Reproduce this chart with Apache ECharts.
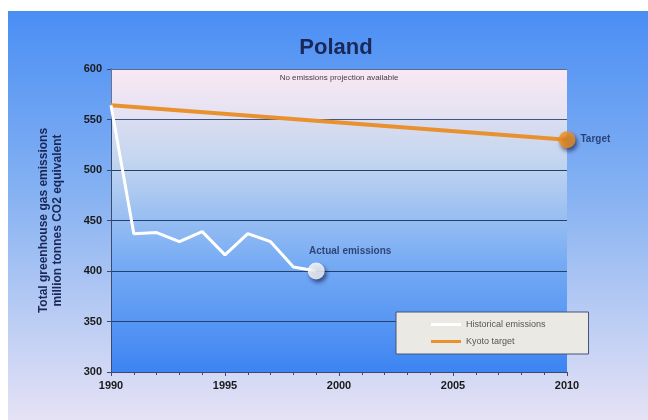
<!DOCTYPE html>
<html>
<head>
<meta charset="utf-8">
<script src="https://cdn.jsdelivr.net/npm/echarts@6/dist/echarts.min.js"></script>
<style>
  html, body { margin: 0; padding: 0; background: #fff; }
  #chart { width: 648px; height: 420px; }
</style>
</head>
<body>
<div id="chart"></div>
<script>
var years = [1990, 1991, 1992, 1993, 1994, 1995, 1996, 1997, 1998, 1999];
var historical = [564, 437, 438, 429, 439, 416, 437, 429, 404, 400];
var targetYears = [1990, 2010];
var kyoto = [564, 530];
var yTicks = [300, 350, 400, 450, 500, 550, 600];

var chart = echarts.init(document.getElementById("chart"));
var dark = "#1a2757";

var histData = years.map(function (y, i) { return [y, historical[i]]; });
var kyotoData = targetYears.map(function (y, i) { return [y, kyoto[i]]; });

var option = {
  animation: false,
  graphic: [
    {
      type: "rect",
      left: 8, top: 11,
      shape: { width: 640, height: 409 },
      style: {
        fill: new echarts.graphic.LinearGradient(0, 0, 0, 1, [
          { offset: 0, color: "#4a8ef4" },
          { offset: 0.45, color: "#86b2f2" },
          { offset: 1, color: "#e6e2f5" }
        ])
      },
      z: -10
    }
  ],
  title: {
    text: "Poland",
    left: 331, top: 32,
    textAlign: "center",
    textStyle: { fontFamily: "Liberation Sans", fontSize: 22, fontWeight: "bold", color: dark }
  },
  grid: {
    left: 111, right: 81, top: 69, bottom: 48,
    show: true,
    borderWidth: 0,
    backgroundColor: new echarts.graphic.LinearGradient(0, 0, 0, 1, [
      { offset: 0, color: "#f6e6f2" },
      { offset: 0.3, color: "#c4d6ef" },
      { offset: 0.65, color: "#74aaf4" },
      { offset: 1, color: "#3d84f2" }
    ])
  },
  xAxis: {
    type: "value",
    min: 1990, max: 2010, interval: 5,
    axisLine: { show: true, lineStyle: { color: "#3a4a70", width: 1 } },
    axisTick: { show: true, length: 4, inside: false, lineStyle: { color: "#3a4a70" } },
    minorTick: { show: true, splitNumber: 5, length: 3, lineStyle: { color: "#3a4a70" } },
    splitLine: { show: false },
    axisLabel: {
      margin: 8,
      fontFamily: "Liberation Sans", fontSize: 11, fontWeight: "bold", color: "#1a1a1a",
      formatter: function (v) { return String(v); }
    }
  },
  yAxis: {
    type: "value",
    min: 300, max: 600, interval: 50,
    name: "Total greenhouse gas emissions\nmillion tonnes CO2 equivalent",
    nameLocation: "middle",
    nameGap: 46,
    nameTextStyle: { fontFamily: "Liberation Sans", fontSize: 12, fontWeight: "bold", color: dark, lineHeight: 14 },
    axisLine: { show: true, lineStyle: { color: "#3a4a70", width: 1 } },
    axisTick: { show: true, length: 4, lineStyle: { color: "#3a4a70" } },
    splitLine: { show: true, lineStyle: { color: "#24406e", width: 1.2 } },
    axisLabel: {
      margin: 9,
      fontFamily: "Liberation Sans", fontSize: 11, fontWeight: "bold", color: "#1a1a1a"
    }
  },
  legend: {
    left: 396, top: 312,
    orient: "vertical",
    padding: [8, 43, 8, 35],
    itemGap: 8,
    itemWidth: 30, itemHeight: 3,
    backgroundColor: "#ebe9e4",
    borderColor: "#45557a",
    borderWidth: 1,
    data: [
      { name: "Historical emissions", icon: "rect" },
      { name: "Kyoto target", icon: "rect" }
    ],
    textStyle: { fontFamily: "Liberation Sans", fontSize: 9, color: "#555" }
  },
  series: [
    {
      name: "Kyoto target",
      type: "line",
      data: kyotoData,
      showSymbol: false,
      lineStyle: { color: "#e8912e", width: 4 },
      itemStyle: { color: "#e8912e" },
      z: 3,
      markArea: {
        silent: true,
        itemStyle: { color: "rgba(255,240,248,0.25)" },
        label: {
          show: true, position: "insideTop", distance: 5,
          fontFamily: "Liberation Sans", fontSize: 8, color: "#4a3a4a"
        },
        data: [[{ yAxis: 550, x: 111, name: "No emissions projection available" }, { yAxis: 600, x: 567 }]]
      }
    },
    {
      name: "Historical emissions",
      type: "line",
      data: histData,
      showSymbol: false,
      lineStyle: { color: "#ffffff", width: 3 },
      itemStyle: { color: "#ffffff" },
      z: 4
    },
    {
      type: "scatter",
      data: [histData[histData.length - 1]],
      symbolSize: 17,
      itemStyle: { color: "#ffffff", shadowColor: "rgba(0,0,40,0.7)", shadowBlur: 4, shadowOffsetX: 2, shadowOffsetY: 3 },
      label: {
        show: true, position: "top", distance: 6, offset: [34, 0],
        formatter: "Actual emissions",
        fontFamily: "Liberation Sans", fontSize: 10, fontWeight: "bold", color: dark
      },
      z: 5
    },
    {
      type: "scatter",
      data: [kyotoData[kyotoData.length - 1]],
      symbolSize: 17,
      itemStyle: { color: "#f0901e", shadowColor: "rgba(0,0,40,0.7)", shadowBlur: 4, shadowOffsetX: 2, shadowOffsetY: 3 },
      label: {
        show: true, position: "right", distance: 5,
        formatter: "Target",
        fontFamily: "Liberation Sans", fontSize: 10, fontWeight: "bold", color: dark
      },
      z: 5
    }
  ]
};

chart.setOption(option);
</script>
</body>
</html>
